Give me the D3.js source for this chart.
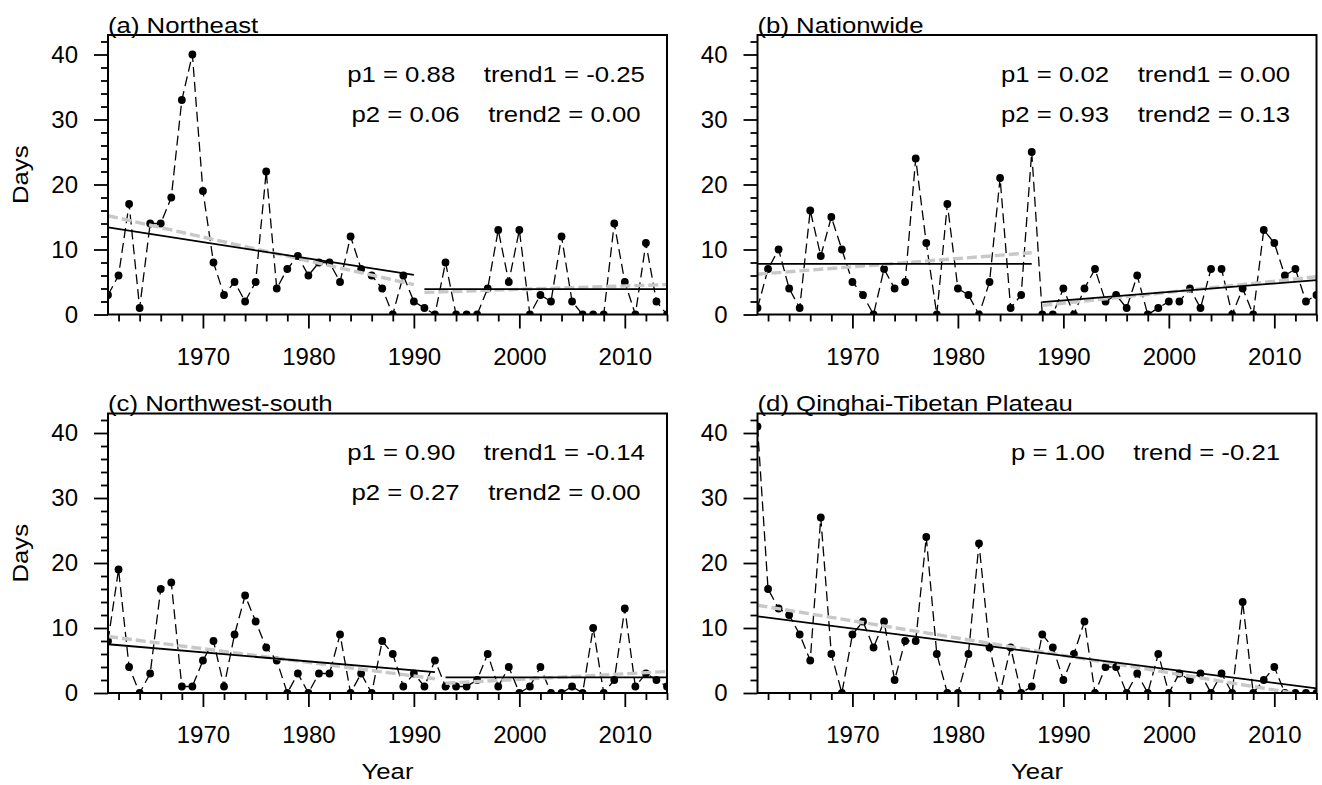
<!DOCTYPE html>
<html>
<head>
<meta charset="utf-8">
<title>Days per year, four regions, 1961-2014</title>
<style>
  body { margin: 0; background: #fff; }
  text { font-family: "Liberation Sans", Arial, Helvetica, sans-serif; fill: #000; }
</style>
</head>
<body>
<svg id="chart" width="1322" height="785"></svg>
<script src="https://cdnjs.cloudflare.com/ajax/libs/d3/7.8.5/d3.min.js"></script>
<script>

var years = d3.range(1961, 2015);

// yearly values, 1961..2014
var northeast = [3,6,17,1,14,14,18,33,40,19, 8,3,5,2,5,22,4,7,9,6,
                 8,8,5,12,7,6,4,0,6,2, 1,0,8,0,0,0,4,13,5,13,
                 0,3,2,12,2,0,0,0,14,5, 0,11,2,0];
var nationwide = [1,7,10,4,1,16,9,15,10,5, 3,0,7,4,5,24,11,0,17,4,
                  3,0,5,21,1,3,25,0,0,4, 0,4,7,2,3,1,6,0,1,2,
                  2,4,1,7,7,0,4,0,13,11, 6,7,2,3];
var northwestSouth = [8,19,4,0,3,16,17,1,1,5, 8,1,9,15,11,7,5,0,3,0,
                      3,3,9,0,3,0,8,6,1,3, 1,5,1,1,1,2,6,1,4,0,
                      1,4,0,0,1,0,10,0,2,13, 1,3,2,1];
var plateau = [41,16,13,12,9,5,27,6,0,9, 11,7,11,2,8,8,24,6,0,0,
               6,23,7,0,7,0,1,9,7,2, 6,11,0,4,4,0,3,0,6,0,
               3,2,3,0,3,0,14,0,2,4, 0,0,0,0];

// trend segments: [startYear, endYear, startValue, endValue]
var trendNE = [[1961, 1990, 13.4, 6.1], [1991, 2014, 3.9, 3.9]];
var fitNE   = [[1961, 1990, 15.2, 4.6], [1991, 2014, 3.4, 4.6]];
var trendNW = [[1961, 1987, 7.8, 7.8], [1988, 2014, 1.9, 5.3]];
var fitNW   = [[1961, 1987, 6.2, 9.5], [1988, 2014, 1.4, 5.8]];
var trendNWS = [[1961, 1992, 7.5, 3.2], [1993, 2014, 2.4, 2.4]];
var fitNWS   = [[1961, 1992, 8.7, 2.2], [1993, 2014, 1.5, 3.3]];
var trendQTP = [[1961, 2014, 11.8, 0.7]];
var fitQTP   = [[1961, 2014, 13.5, -0.6]];

var titles = ["(a) Northeast", "(b) Nationwide", "(c) Northwest-south", "(d) Qinghai-Tibetan Plateau"];
var statsNE  = ["p1 = 0.88    trend1 = -0.25", "p2 = 0.06    trend2 = 0.00"];
var statsNW  = ["p1 = 0.02    trend1 = 0.00", "p2 = 0.93    trend2 = 0.13"];
var statsNWS = ["p1 = 0.90    trend1 = -0.14", "p2 = 0.27    trend2 = 0.00"];
var statsQTP = ["p = 1.00    trend = -0.21"];

var yMajor = [0, 10, 20, 30, 40];
var xMajor = [1970, 1980, 1990, 2000, 2010];

var panels = [
    {title: titles[0], values: northeast, trend: trendNE, fit: fitNE, stats: statsNE, col: 0, row: 0},
    {title: titles[1], values: nationwide, trend: trendNW, fit: fitNW, stats: statsNW, col: 1, row: 0},
    {title: titles[2], values: northwestSouth, trend: trendNWS, fit: fitNWS, stats: statsNWS, col: 0, row: 1},
    {title: titles[3], values: plateau, trend: trendQTP, fit: fitQTP, stats: statsQTP, col: 1, row: 1}
];

var W = 559, H = 279.5;
var lefts = [108, 757.5], tops = [35, 413.5];
var stretch = 1.12;   // the original text is a bit wider than Arial

var svg = d3.select("#chart");

var x = d3.scaleLinear().domain([1961, 2014]).range([0, W]);
var y = d3.scaleLinear().domain([0, 43]).range([H, 0]);

panels.forEach(function(p, i) {
    var g = svg.append("g")
        .attr("transform", "translate(" + lefts[p.col] + "," + tops[p.row] + ")");

    g.append("clipPath").attr("id", "clip" + i)
        .append("rect").attr("width", W).attr("height", H);

    // minor ticks
    g.append("g")
        .call(d3.axisLeft(y).tickValues(d3.range(0, 43, 2).filter(function(v) { return v % 10; }))
            .tickSize(7).tickFormat(""))
        .call(function(a) { a.select(".domain").remove(); a.selectAll("line").attr("stroke-width", 1.8); });
    g.append("g").attr("transform", "translate(0," + H + ")")
        .call(d3.axisBottom(x).tickValues(d3.range(1962, 2015, 2).filter(function(v) { return v % 10; }))
            .tickSize(7).tickFormat(""))
        .call(function(a) { a.select(".domain").remove(); a.selectAll("line").attr("stroke-width", 1.8); });

    // major ticks + labels
    g.append("g")
        .call(d3.axisLeft(y).tickValues(yMajor).tickSize(14).tickPadding(16))
        .call(function(a) {
            a.select(".domain").remove();
            a.selectAll("line").attr("stroke-width", 1.8);
            a.selectAll("text").attr("font-size", 24).attr("font-family", null);
        });
    g.append("g").attr("transform", "translate(0," + H + ")")
        .call(d3.axisBottom(x).tickValues(xMajor).tickSize(14).tickPadding(19).tickFormat(d3.format("d")))
        .call(function(a) {
            a.select(".domain").remove();
            a.selectAll("line").attr("stroke-width", 1.8);
            a.selectAll("text").attr("font-size", 24).attr("font-family", null);
        });

    var plot = g.append("g").attr("clip-path", "url(#clip" + i + ")");

    var line = d3.line()
        .x(function(d, j) { return x(years[j]); })
        .y(function(d) { return y(d); });

    plot.append("path")
        .attr("d", line(p.values))
        .attr("fill", "none")
        .attr("stroke", "#000")
        .attr("stroke-width", 1.3)
        .attr("stroke-dasharray", "10,5");

    plot.selectAll("circle")
        .data(p.values)
        .enter()
        .append("circle")
        .attr("cx", function(d, j) { return x(years[j]); })
        .attr("cy", function(d) { return y(d); })
        .attr("r", 3.9)
        .attr("fill", "#000");

    var seg = function(s) { return d3.line()([[x(s[0]), y(s[2])], [x(s[1]), y(s[3])]]); };

    plot.selectAll("path.fit")
        .data(p.fit)
        .enter()
        .append("path")
        .attr("class", "fit")
        .attr("d", seg)
        .attr("fill", "none")
        .attr("stroke", "#c8c8c8")
        .attr("stroke-width", 3.4)
        .attr("stroke-dasharray", "10,4");

    plot.selectAll("path.trend")
        .data(p.trend)
        .enter()
        .append("path")
        .attr("class", "trend")
        .attr("d", seg)
        .attr("fill", "none")
        .attr("stroke", "#000")
        .attr("stroke-width", 1.8);

    g.append("rect")
        .attr("width", W).attr("height", H)
        .attr("fill", "none")
        .attr("stroke", "#000")
        .attr("stroke-width", 2);

    // title
    g.append("g").attr("transform", "translate(0,-2.5) scale(" + stretch + ",1)")
        .append("text")
        .attr("font-size", 23)
        .text(p.title);

    // p / trend statistics
    p.stats.forEach(function(s, k) {
        g.append("g").attr("transform", "translate(388," + (46.5 + k * 40) + ") scale(" + stretch + ",1)")
            .append("text")
            .attr("text-anchor", "middle")
            .attr("font-size", 23)
            .style("white-space", "pre")
            .text(s);
    });

    if (p.col === 0) {
        g.append("g").attr("transform", "translate(" + (28 - lefts[0]) + "," + (H / 2) + ") rotate(-90) scale(" + stretch + ",1)")
            .append("text")
            .attr("text-anchor", "middle")
            .attr("font-size", 23)
            .text("Days");
    }
    if (p.row === 1) {
        g.append("g").attr("transform", "translate(" + (W / 2) + "," + (779 - tops[1]) + ") scale(" + stretch + ",1)")
            .append("text")
            .attr("text-anchor", "middle")
            .attr("font-size", 23)
            .text("Year");
    }
});

</script>
</body>
</html>
